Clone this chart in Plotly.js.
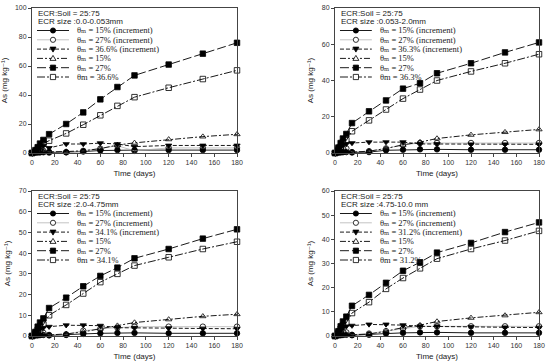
<!DOCTYPE html>
<html>
<head>
<meta charset="utf-8">
<script src="https://cdn.plot.ly/plotly-3.0.1.min.js"></script>
<style>html,body{margin:0;padding:0;background:#fff;}#chart{width:550px;height:364px;}</style>
</head>
<body>
<div id="chart"></div>
<script>
// ---- data ----
const time = [0, 3, 5, 7, 10, 15, 30, 45, 60, 75, 90, 120, 150, 180];

const p1_inc15 = [0, 0.2, 0.3, 0.4, 0.5, 0.3, 0.5, 1, 1.7, 2, 2, 2, 2, 2];
const p1_inc27 = [0, 1, 1.5, 1.5, 1.5, 0.8, 0.5, 1.5, 3, 5, 1.5, 3.5, 3.5, 3.5];
const p1_inc36 = [0, 1.5, 3, 4, 5, 3.5, 6.2, 6.2, 6.8, 6.2, 4.4, 5.2, 5.2, 5.2];
const p1_15 = [0, 0.2, 0.3, 0.4, 0.5, 0.8, 1, 1.5, 3, 5.5, 7, 9.4, 11.3, 12.9];
const p1_27 = [0, 2, 4, 6.5, 9, 13, 20, 28, 37, 45.5, 53.5, 61, 68.5, 76];
const p1_36 = [0, 1, 2, 4, 6.5, 8.5, 13.5, 19.5, 26, 32.5, 38.5, 45, 51, 57];

const p2_inc15 = [0, 0.2, 0.3, 0.4, 0.5, 0.3, 0.5, 1.5, 1.8, 2, 2, 1.8, 1.8, 1.8];
const p2_inc27 = [0, 1.5, 2, 2.5, 2.5, 0.5, 1, 2.5, 4.5, 5.5, 5.5, 5.5, 5.5, 5.5];
const p2_inc36 = [0, 2, 3.5, 4.5, 5, 5.5, 6, 6, 6, 5, 5, 4.8, 4.8, 4.8];
const p2_15 = [0, 0.2, 0.3, 0.4, 0.5, 0.5, 1, 2.5, 4.5, 6, 8, 10, 11.5, 13];
const p2_27 = [0, 3, 5.5, 8, 10.5, 16.5, 23, 29, 35.5, 38.5, 44, 49.5, 55.5, 61];
const p2_36 = [0, 2, 3.5, 6, 7, 12, 18, 24, 30, 35, 40, 45, 49.5, 54.5];

const p3_inc15 = [0, 0.2, 0.3, 0.4, 0.5, 0.3, 0.5, 1, 1.3, 1.5, 1.5, 1.3, 1.3, 1.3];
const p3_inc27 = [0, 1, 1.5, 2, 1.5, 0.5, 0.8, 2.5, 3.5, 4, 4.5, 4.5, 4.5, 4.5];
const p3_inc36 = [0, 1.5, 2.5, 3.5, 4, 4.5, 5.2, 5.2, 5, 4, 4, 3.8, 3.6, 3.5];
const p3_15 = [0, 0.2, 0.3, 0.4, 0.5, 0.5, 1, 2, 3.5, 5, 6.5, 8, 9.5, 10.5];
const p3_27 = [0, 2, 4.5, 6.5, 8.5, 13.5, 18.5, 24, 29, 33, 37.5, 42, 47, 51.5];
const p3_36 = [0, 1.5, 3, 4.5, 5.5, 10, 15, 20.5, 26, 30, 34, 38, 42, 45.5];

const p4_inc15 = [0, 0.2, 0.3, 0.4, 0.5, 0.3, 0.5, 1, 1.3, 1.5, 1.5, 1.3, 1.3, 1.3];
const p4_inc27 = [0, 1, 1.5, 1.8, 1.5, 0.5, 1, 2, 3, 4, 4, 4, 4, 4];
const p4_inc36 = [0, 1.5, 2.5, 3.5, 4, 4.3, 4.8, 4.8, 4.5, 4, 4, 3.8, 3.6, 3.5];
const p4_15 = [0, 0.2, 0.3, 0.4, 0.5, 0.5, 0.8, 2, 3.5, 4.5, 6, 7.5, 8.5, 9.8];
const p4_27 = [0, 2, 4, 6, 8, 12.5, 17, 22, 27, 30.5, 34.5, 38.5, 43, 47];
const p4_36 = [0, 1.5, 3, 4.5, 5.5, 9.5, 14, 19.5, 24, 28, 32, 36, 39.5, 43.5];

const moisture = ["36.6%", "36.3%", "34.1%", "31.2%"];
const sizes = ["0.0-0.053mm", "0.053-2.0mm", "2.0-4.75mm", "4.75-10.0 mm"];
const yMax = [100, 80, 70, 60];
const yStep = [20, 20, 10, 10];

// ---- styles ----
const styles = [
  {dash: "solid", color: "#000", width: 0.9, symbol: "circle", fill: "#000", kind: "circle"},
  {dash: "solid", color: "#aaa", width: 0.7, symbol: "circle-open", fill: "#fff", kind: "circle"},
  {dash: "4px,2px", color: "#000", width: 0.9, symbol: "triangle-down", fill: "#000", kind: "path", path: "M-3,2 L3,2 L0,-3 Z"},
  {dash: "6px,2px,2px,2px", color: "#000", width: 0.9, symbol: "triangle-up-open", fill: "#fff", kind: "path", path: "M-3,-2 L3,-2 L0,3 Z"},
  {dash: "9px,3px", color: "#000", width: 0.9, symbol: "square", fill: "#000", kind: "rect"},
  {dash: "8px,2px,2px,2px", color: "#000", width: 0.9, symbol: "square-open", fill: "#fff", kind: "rect"}
];

const panels = [
  [p1_inc15, p1_inc27, p1_inc36, p1_15, p1_27, p1_36],
  [p2_inc15, p2_inc27, p2_inc36, p2_15, p2_27, p2_36],
  [p3_inc15, p3_inc27, p3_inc36, p3_15, p3_27, p3_36],
  [p4_inc15, p4_inc27, p4_inc36, p4_15, p4_27, p4_36]
];

const traces = [];
panels.forEach((series, pi) => {
  const ax = pi === 0 ? "" : String(pi + 1);
  series.forEach((ys, si) => {
    const s = styles[si];
    traces.push({
      type: "scatter", mode: "lines+markers", x: time, y: ys,
      xaxis: "x" + ax, yaxis: "y" + ax, showlegend: false,
      line: {dash: s.dash, color: s.color, width: s.width},
      marker: {symbol: s.symbol, size: 5.5, color: "#000",
               line: {color: "#000", width: 0.8}},
      cliponaxis: false
    });
  });
});

// ---- layout ----
const W = 550, H = 364;
const mL = 32, mR = 11, mT = 8, mB = 28;
const pw = W - mL - mR, ph = H - mT - mB;
const xd = [[0, 205 / pw], [(335 - mL) / pw, 1]];
const yd = [[(336 - 153) / ph, 1], [0, 145 / ph]];
const boxW = 205, boxH = 145;

function axisX(dom, anchor) {
  return {
    domain: dom, anchor: anchor, range: [0, 180], tick0: 0, dtick: 20,
    showline: true, linecolor: "#444", linewidth: 1, mirror: true,
    ticks: "outside", ticklen: 3, tickcolor: "#444", showgrid: false, zeroline: false,
    tickfont: {family: "Liberation Sans, Arial", size: 7, color: "#333"},
    title: {text: "Time (days)", font: {family: "Liberation Sans, Arial", size: 8, color: "#222"}, standoff: 4}
  };
}
function axisY(dom, anchor, maxv, step) {
  return {
    domain: dom, anchor: anchor, range: [0, maxv], tick0: 0, dtick: step,
    showline: true, linecolor: "#444", linewidth: 1, mirror: true,
    ticks: "outside", ticklen: 3, tickcolor: "#444", showgrid: false, zeroline: false,
    tickfont: {family: "Liberation Sans, Arial", size: 7, color: "#333"},
    title: {text: "As (mg kg⁻¹)", font: {family: "Liberation Sans, DejaVu Sans, Arial", size: 8, color: "#222"}, standoff: 7}
  };
}

const layout = {
  width: W, height: H, margin: {l: mL, r: mR, t: mT, b: mB},
  paper_bgcolor: "#fff", plot_bgcolor: "#fff", showlegend: false,
  annotations: [], shapes: []
};

const legendLabels = (m) => [
  "θₘ = 15% (increment)",
  "θₘ = 27% (increment)",
  "θₘ = " + m + " (increment)",
  "θₘ = 15%",
  "θₘ = 27%",
  "θm = " + m
];

for (let pi = 0; pi < 4; pi++) {
  const col = pi % 2, row = Math.floor(pi / 2);
  const ax = pi === 0 ? "" : String(pi + 1);
  layout["xaxis" + ax] = axisX(xd[col], "y" + ax);
  layout["yaxis" + ax] = axisY(yd[row], "x" + ax, yMax[pi], yStep[pi]);
  const xr = "x" + ax + " domain", yr = "y" + ax + " domain";
  const fx = (px) => px / boxW, fy = (py) => 1 - py / boxH;
  const sans = {family: "Liberation Sans, Arial", size: 8, color: "#222"};
  layout.annotations.push(
    {xref: xr, yref: yr, x: fx(4), y: fy(6), text: "ECR:Soil = 25:75", showarrow: false, xanchor: "left", yanchor: "middle", font: sans},
    {xref: xr, yref: yr, x: fx(4), y: fy(13.7), text: "ECR size :" + sizes[pi], showarrow: false, xanchor: "left", yanchor: "middle", font: sans}
  );
  const labels = legendLabels(moisture[pi]);
  for (let i = 0; i < 6; i++) {
    const yy = fy(22.5 + i * 9.3);
    const s = styles[i];
    layout.shapes.push({type: "line", xref: xr, yref: yr, x0: fx(5), x1: fx(37), y0: yy, y1: yy,
      line: {color: s.color, width: s.width, dash: s.dash}});
    const mk = {xref: xr, yref: yr, xsizemode: "pixel", ysizemode: "pixel", xanchor: fx(21), yanchor: yy,
      fillcolor: s.fill, line: {color: "#000", width: 0.8}};
    if (s.kind === "path") { mk.type = "path"; mk.path = s.path; }
    else { mk.type = s.kind; mk.x0 = -2.6; mk.x1 = 2.6; mk.y0 = -2.6; mk.y1 = 2.6; }
    layout.shapes.push(mk);
    layout.annotations.push({xref: xr, yref: yr, x: fx(43), y: yy, text: labels[i], showarrow: false,
      xanchor: "left", yanchor: "middle", font: {family: "Liberation Serif, DejaVu Serif, Times New Roman", size: 8.5, color: "#222"}});
  }
}

Plotly.newPlot("chart", traces, layout, {staticPlot: true, displayModeBar: false});
</script>
</body>
</html>
